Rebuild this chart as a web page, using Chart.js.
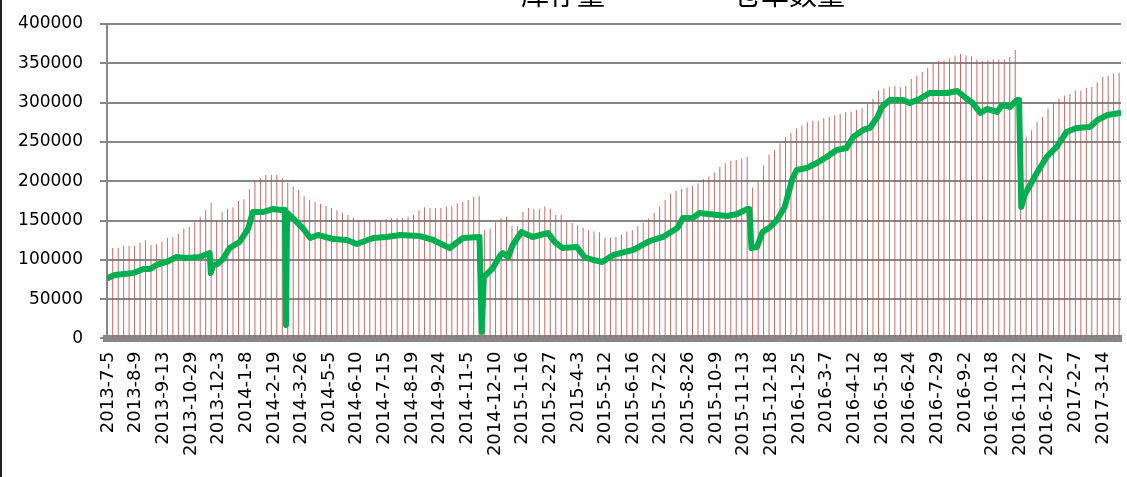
<!DOCTYPE html>
<html lang="zh-CN">
<head>
<meta charset="utf-8">
<title>库存量与仓单数量</title>
<script src="https://cdn.jsdelivr.net/npm/chart.js"></script>
<style>
  html, body { margin: 0; padding: 0; background: #fff; }
  #wrap { position: relative; width: 1127px; height: 477px; overflow: hidden; }
  #frame { position: absolute; left: 0; top: 0; width: 2px; height: 477px; background: #222; }
  #legend {
    position: absolute; top: -21px; left: 521px; white-space: nowrap;
    font-family: "Noto Sans CJK SC", sans-serif; font-size: 28px; line-height: 28px; color: #000;
  }
  #legend .sw { display: inline-block; position: relative; top: -12px; }
  #legend .red { width: 10px; height: 10px; background: #C0504D; margin-left: -16px; margin-right: 6px; }
  #legend .green { width: 30px; height: 6px; background: #00B050; margin: 0 8px 0 90px; }
  #box { position: absolute; left: 0; top: 0; width: 1127px; height: 477px; }
</style>
</head>
<body>
<div id="wrap">
  <div id="box"><canvas id="chart"></canvas></div>
  <div id="legend"><span class="sw red"></span>库存量<span class="sw green"></span>仓单数量</div>
  <div id="frame"></div>
</div>

<script>
// x axis: trading-day index, one label every 25 trading days
const tickStep = 25;
const tickLabels = ['2013-7-5', '2013-8-9', '2013-9-13', '2013-10-29', '2013-12-3', '2014-1-8',
  '2014-2-19', '2014-3-26', '2014-5-5', '2014-6-10', '2014-7-15', '2014-8-19', '2014-9-24',
  '2014-11-5', '2014-12-10', '2015-1-16', '2015-2-27', '2015-4-3', '2015-5-12', '2015-6-16',
  '2015-7-22', '2015-8-26', '2015-10-9', '2015-11-13', '2015-12-18', '2016-1-25', '2016-3-7',
  '2016-4-12', '2016-5-18', '2016-6-24', '2016-7-29', '2016-9-2', '2016-10-18', '2016-11-22',
  '2016-12-27', '2017-2-7', '2017-3-14'];

// 仓单数量 (daily series, read at turning points)
const receiptDays = [0, 6, 23, 32, 38, 44, 53, 62, 71, 83, 92, 93, 95, 99, 104, 110, 119, 127, 131, 140,
  149, 157, 160, 161, 162, 167, 176, 183, 190, 204, 216, 225, 240, 252, 264, 282, 294, 309, 321, 336,
  338, 340, 348, 355, 357, 362, 366, 374, 384, 398, 404, 411, 424, 431, 439, 447, 457, 475, 490, 502,
  515, 520, 529, 535, 551, 560, 569, 578, 580, 582, 587, 592, 599, 605, 612, 619, 623, 632, 641, 650,
  659, 668, 674, 683, 689, 696, 700, 707, 719, 725, 734, 743, 759, 768, 777, 782, 789, 795, 804, 809,
  816, 822, 824, 826, 829, 840, 849, 858, 867, 876, 888, 895, 904, 915];
const receiptValues = [77000, 80800, 83300, 88400, 88400, 93500, 97300, 103600, 102400, 103600, 108700,
  83300, 93500, 94800, 101100, 115100, 122700, 140500, 160800, 160800,
  164600, 163400, 163400, 17200, 159600, 153300, 140500, 127800, 131600, 126500, 125300, 120200,
  127800, 129100, 131600, 130300, 125300, 115100, 127800, 129100,
  8300, 78200, 89600, 106200, 108700, 103600, 118900, 135500, 129100, 134200, 122700, 115100,
  116400, 103600, 99800, 97300, 106200, 112600, 124000, 129100,
  140500, 153300, 153300, 159600, 157100, 155800, 158400, 164600, 164600, 115100, 116400, 135500,
  141800, 150800, 167300, 203300, 214300, 216800, 223200, 230900,
  239800, 242300, 256300, 265200, 267800, 281800, 294500, 303300, 303300, 299500, 304600, 312300,
  312300, 314800, 304600, 299500, 286800, 291900, 288100, 297000,
  294500, 303300, 303300, 167300, 182500, 210400, 230900, 243600, 262700, 267800, 269000, 277900,
  284300, 286800];

// 库存量 (weekly, about 4.95 trading days apart)
const stockFirstDay = 4.25;
const stockWeekDays = 4.947;
const stockValues = [115000, 115500, 118000, 118000, 118000, 122000, 125000, 119000, 120000, 123000,
  128000, 129000, 133000, 140000, 142000, 148000, 155000, 163000, 173000, 150000,
  161000, 165000, 167000, 175000, 177000, 190000, 199000, 204000, 208000, 208000,
  208000, 204000, 198000, 193000, 189000, 181000, 176000, 174000, 171000, 168500,
  166000, 163000, 160000, 157000, 154000, 151000, 151000, 151000, 151000, 151000,
  152000, 153000, 153000, 153000, 155000, 157000, 163000, 167000, 166000, 166000,
  166000, 168000, 168000, 172000, 174000, 176000, 180000, 181000, 138000, 140000,
  148000, 153000, 155000, 143000, 143000, 161000, 166000, 165000, 165000, 168000,
  165000, 157000, 157000, 149000, 147000, 144000, 141000, 138000, 136000, 135000,
  128000, 128000, 129000, 132000, 136000, 138000, 143000, 147000, 153000, 160000,
  168000, 176000, 184000, 188000, 190000, 192000, 194000, 197000, 203000, 206000,
  211000, 218000, 223000, 226000, 227000, 229000, 231000, 192000, 199000, 220000,
  234000, 240000, 248000, 256000, 261000, 267000, 271000, 275000, 277000, 277000,
  280000, 282000, 284000, 286000, 288000, 288500, 291000, 293000, 298000, 305000,
  315000, 318000, 319500, 321000, 319500, 321000, 330000, 334000, 339000, 344000,
  349000, 353000, 354000, 356000, 360000, 362000, 360000, 359000, 355000, 353000,
  354000, 355000, 355000, 355000, 358000, 367000, 245000, 257000, 265000, 276000,
  282000, 293000, 300000, 305000, 309000, 311000, 315000, 315000, 319000, 320000,
  326000, 333000, 334000, 337000, 338000];

const yTicks = { min: 0, max: 400000, step: 50000 };

const receiptPoints = receiptDays.map((d, i) => ({ x: d, y: receiptValues[i] }));
const stockPoints = stockValues.map((v, i) => ({ x: stockFirstDay + i * stockWeekDays, y: v }));

const chart = new Chart(document.getElementById('chart'), {
  type: 'bar',
  data: {
    datasets: [
      {
        type: 'line',
        label: '仓单数量',
        data: receiptPoints,
        borderColor: '#00B050',
        borderWidth: 6,
        borderJoinStyle: 'round',
        borderCapStyle: 'round',
        pointRadius: 0,
        tension: 0,
        order: 0
      },
      {
        type: 'bar',
        label: '库存量',
        data: stockPoints,
        backgroundColor: 'rgba(192, 80, 77, 0.85)',
        barThickness: 1,
        inflateAmount: 0,
        order: 1
      }
    ]
  },
  options: {
    responsive: true,
    maintainAspectRatio: false,
    animation: false,
    layout: { padding: { top: 24, left: 1.1, right: 6, bottom: 7.9 } },
    plugins: {
      legend: { display: false },
      title: { display: false },
      tooltip: { enabled: false }
    },
    scales: {
      x: {
        type: 'linear',
        offset: false,
        min: -0.9,
        max: 916.2,
        afterBuildTicks: s => { s.ticks = tickLabels.map((t, i) => ({ value: i * tickStep })); },
        afterFit: s => { s.paddingLeft = 0; s.paddingRight = 0; },
        grid: { display: false, drawTicks: false },
        border: { display: true, width: 7, color: '#878787' },
        ticks: {
          autoSkip: false,
          minRotation: 90,
          maxRotation: 90,
          padding: 13,
          color: '#000',
          font: { family: 'DejaVu Sans', size: 18 },
          callback: v => tickLabels[v / tickStep]
        }
      },
      y: {
        min: yTicks.min,
        max: yTicks.max,
        afterFit: s => { s.paddingTop = 0; s.paddingBottom = 0; },
        grid: { color: '#878787', lineWidth: 2, tickLength: 7 },
        border: { color: '#878787', width: 2 },
        ticks: {
          stepSize: yTicks.step,
          padding: 17,
          color: '#000',
          font: { family: 'DejaVu Sans', size: 17 },
          callback: v => String(v)
        }
      }
    }
  }
});
</script>
</body>
</html>
